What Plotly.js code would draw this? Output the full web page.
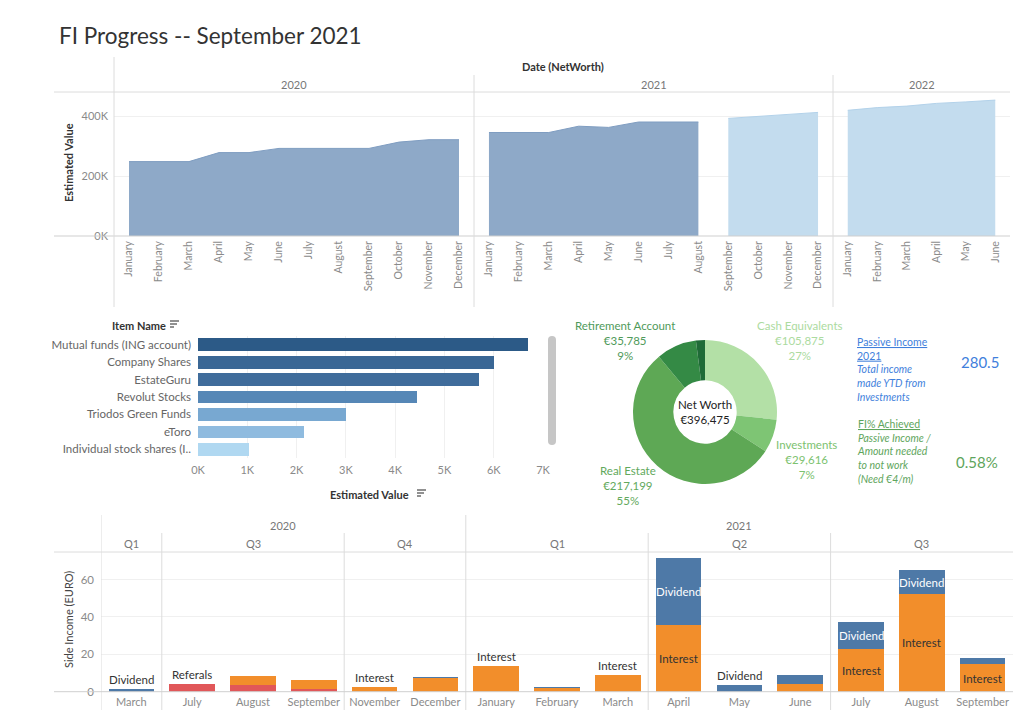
<!DOCTYPE html>
<html><head><meta charset="utf-8">
<script src="https://cdn.plot.ly/plotly-3.0.1.min.js"></script>
<style>html,body{margin:0;padding:0;background:#fff;}#chart{width:1024px;height:728px;}</style>
</head><body><div id="chart"></div><script>
// ---------- DATA ----------
const months = ['January','February','March','April','May','June','July','August','September','October','November','December'];
const nwYears = ['2020','2021','2022'];
const nw2020 = [248000,248000,248000,278000,278000,292000,292000,292000,292000,313000,321000,321000];
const nw2021Actual = [345000,345000,345000,366000,362000,380000,380000,380000];
const nw2021Forecast = [392000,398000,405000,412000];
const nw2022Forecast = [419000,428000,433000,442000,447000,453000];

const items = ['Mutual funds (ING account)','Company Shares','EstateGuru','Revolut Stocks','Triodos Green Funds','eToro','Individual stock shares (I..'];
const itemValues = [6700,6010,5710,4450,3000,2150,1040];

const assetLabels = ['Cash Equivalents','Investments','Real Estate','Retirement Account','Other'];
const assetValues = [105875,29616,217199,35785,8000];

const passiveIncome2021 = 280.5;
const fiAchievedPct = 0.58;

const periodYears = ['2020','2020','2020','2020','2020','2020','2021','2021','2021','2021','2021','2021','2021','2021','2021'];
const periodQuarters = ['Q1','Q3','Q3','Q3','Q4','Q4','Q1','Q1','Q1','Q2','Q2','Q2','Q3','Q3','Q3'];
const periodMonths = ['March','July','August','September','November','December','January','February','March','April','May','June','July','August','September'];
const referals = [0,4.1,3.6,1.4,0,0,0,0,0,0,0,0,0,0,0];
const interest = [0,0,4.8,4.8,2.5,7.5,14.0,2.1,8.9,35.9,0,4.1,22.6,52.1,14.6];
const dividend = [1.6,0,0,0,0,0.4,0,0.5,0,35.7,3.6,4.8,14.8,12.8,3.2];

// ---------- STYLE ----------
const FONT = 'Lato, "Open Sans", sans-serif';
const W=1024,H=728;
const px=x=>x/W, py=y=>1-y/H;
const LINE='#dcdcdc', GRID='#f0f0f0', TICK='#8a8a8a';
const itemColors = ['#2c5a87','#3a6795','#3f6c9b','#5687b6','#78a8d1','#8fbbdf','#b0d8f1'];
const assetColors = ['#b3e0a6','#7ec574','#5ea855','#348a45','#1f6b37'];
const assetTextColors = ['#acdba0','#7cc26f','#62a95c','#4f9a5a'];
const incomeColors = {Referals:'#e15759',Interest:'#f28e2b',Dividend:'#4e79a7'};

const shapes=[], annotations=[];
const hline=(x0,x1,y,c)=>shapes.push({type:'line',xref:'paper',yref:'paper',x0:px(x0),x1:px(x1),y0:py(y),y1:py(y),line:{color:c||LINE,width:1}});
const vline=(x,y0,y1,c)=>shapes.push({type:'line',xref:'paper',yref:'paper',x0:px(x),x1:px(x),y0:py(y0),y1:py(y1),line:{color:c||LINE,width:1}});
const ann=(x,y,text,o)=>annotations.push(Object.assign({xref:'paper',yref:'paper',x:px(x),y:py(y),xanchor:'center',yanchor:'middle',text:text,showarrow:false,font:{family:FONT,size:11,color:'#333'}},o||{}));

// ---------- TITLE ----------
ann(57,35,'FI Progress -- September 2021',{xanchor:'left',font:{family:FONT,size:22.5,color:'#333'}});

// ---------- TOP AREA CHART ----------
const traces=[];
const darkFill='#8ea9c8', darkLine='#7f9dc1', lightFill='#c3dcee', lightLine='#b3d2ea';
function area(x,y,xa,fill,line){traces.push({type:'scatter',mode:'lines',x:x,y:y,xaxis:xa,yaxis:'y',fill:'tozeroy',fillcolor:fill,line:{color:line,width:1},hoverinfo:'skip'});}
area(months,nw2020,'x',darkFill,darkLine);
area(months.slice(0,nw2021Actual.length),nw2021Actual,'x2',darkFill,darkLine);
area(months.slice(12-nw2021Forecast.length),nw2021Forecast,'x2',lightFill,lightLine);
area(months.slice(0,nw2022Forecast.length),nw2022Forecast,'x3',lightFill,lightLine);

const topX = (dom,cats)=>({domain:dom,anchor:'y',type:'category',categoryorder:'array',categoryarray:cats,range:[-0.5,cats.length-0.5],tickangle:-90,showgrid:false,zeroline:false,showline:false,ticks:'',tickfont:{family:FONT,size:10.5,color:TICK},ticklabelstandoff:2,fixedrange:true});
ann(563,66,'<b>Date (NetWorth)</b>',{font:{family:FONT,size:11,color:'#333'}});
['x','x2','x3'].forEach((a,i)=>annotations.push({xref:a+' domain',yref:'paper',x:0.5,y:py(84),xanchor:'center',yanchor:'middle',text:nwYears[i],showarrow:false,font:{family:FONT,size:11,color:'#777'}}));
ann(68,163,'<b>Estimated Value</b>',{textangle:-90,font:{family:FONT,size:11,color:'#333'}});
hline(54,1010,92); hline(54,1010,236,'#cfcfcf');
vline(114,57,307); vline(474,75,307); vline(833,75,307);

// ---------- BAR CHART ----------
traces.push({type:'bar',orientation:'h',y:items,x:itemValues,xaxis:'x4',yaxis:'y4',width:0.73,marker:{color:itemColors},hoverinfo:'skip'});
ann(110,325,'<b>Item Name</b>',{xanchor:'left'});
ann(369,494,'<b>Estimated Value</b>');
function sortIcon(x,y){[[9,0],[7,3],[4,6]].forEach(([l,d])=>shapes.push({type:'line',xref:'paper',yref:'paper',x0:px(x),x1:px(x+l),y0:py(y+d),y1:py(y+d),line:{color:'#555',width:1.3}}));}
sortIcon(170,321); sortIcon(417,490);
// scrollbar
shapes.push({type:'path',xref:'paper',yref:'paper',path:`M ${px(548)} ${py(340)} Q ${px(548)} ${py(336)} ${px(552)} ${py(336)} Q ${px(556)} ${py(336)} ${px(556)} ${py(340)} L ${px(556)} ${py(441)} Q ${px(556)} ${py(445)} ${px(552)} ${py(445)} Q ${px(548)} ${py(445)} ${px(548)} ${py(441)} Z`,fillcolor:'#c6c6c6',line:{width:0}});

// ---------- DONUT ----------
const total = assetValues.reduce((a,b)=>a+b,0);
const cx=705, cy=412, R=72;
traces.push({type:'pie',values:assetValues,labels:assetLabels,hole:0.44,sort:false,direction:'clockwise',rotation:0,textinfo:'none',hoverinfo:'skip',marker:{colors:assetColors,line:{width:0}},domain:{x:[px(cx-R),px(cx+R)],y:[py(cy+R),py(cy-R)]}});
const eur=v=>'€'+v.toLocaleString('en-US');
const donutPos=[[800,340],[806,459],[628,485],[625,340]];
donutPos.forEach((p,i)=>ann(p[0],p[1],assetLabels[i]+'<br>'+eur(assetValues[i])+'<br>'+Math.round(assetValues[i]/total*100)+'%',{font:{family:FONT,size:11.5,color:assetTextColors[i]}}));
ann(cx,cy,'Net Worth<br>'+eur(total),{font:{family:FONT,size:11.5,color:'#222'}});

// ---------- KPI TEXT ----------
const blue='#3f7fdc', green='#5ea55c';
ann(855,334,'<u>Passive Income</u><br><u>2021</u><br><i>Total income</i><br><i>made YTD from</i><br><i>Investments</i>',{xanchor:'left',yanchor:'top',align:'left',font:{family:FONT,size:10.5,color:blue}});
ann(980,362,String(passiveIncome2021),{font:{family:FONT,size:15,color:blue}});
ann(855,416,'<u>FI% Achieved</u><br><i>Passive Income /</i><br><i>Amount needed</i><br><i>to not work</i><br><i>(Need €4/m)</i>',{xanchor:'left',yanchor:'top',align:'left',font:{family:FONT,size:10.5,color:green}});
ann(977,462,fiAchievedPct.toFixed(2)+'%',{font:{family:FONT,size:15,color:green}});

// ---------- SIDE INCOME ----------
const periodKeys = periodYears.map((y,i)=>y+' '+periodMonths[i]);
const series=[['Referals',referals],['Interest',interest],['Dividend',dividend]];
series.forEach(([n,v])=>traces.push({type:'bar',name:n,x:periodKeys,y:v.map(d=>d||null),xaxis:'x5',yaxis:'y5',width:0.75,marker:{color:incomeColors[n],line:{width:0}},hoverinfo:'skip'}));
// mark labels
periodKeys.forEach((k,i)=>{
  const segs=series.map(([n,v])=>[n,v[i]]);
  const nonzero=segs.filter(s=>s[1]>0);
  let base=0;
  if(nonzero.length===1){
    annotations.push({xref:'x5',yref:'y5',x:i,y:nonzero[0][1],xanchor:'center',yanchor:'bottom',yshift:1,text:nonzero[0][0],showarrow:false,font:{family:FONT,size:11.5,color:'#333'}});
  } else {
    segs.forEach(([n,v])=>{ if(v>=10) annotations.push({xref:'x5',yref:'y5',x:i,y:base+v/2,xanchor:'center',yanchor:'middle',text:n,showarrow:false,font:{family:FONT,size:11.5,color:n==='Dividend'?'#fff':'#333'}}); base+=v; });
  }
});
function groups(keys){const g=[];keys.forEach((k,i)=>{if(g.length&&g[g.length-1].key===k)g[g.length-1].end=i;else g.push({key:k,start:i,end:i});});return g;}
const yearG=groups(periodYears), qG=groups(periodYears.map((y,i)=>y+'|'+periodQuarters[i]));
yearG.forEach(g=>{annotations.push({xref:'x5',yref:'paper',x:(g.start+g.end)/2,y:py(525),xanchor:'center',yanchor:'middle',text:g.key,showarrow:false,font:{family:FONT,size:11,color:'#777'}});
  shapes.push({type:'line',xref:'x5',yref:'paper',x0:g.start-0.5,x1:g.start-0.5,y0:py(515),y1:py(710),line:{color:LINE,width:1}});});
qG.forEach(g=>{annotations.push({xref:'x5',yref:'paper',x:(g.start+g.end)/2,y:py(543),xanchor:'center',yanchor:'middle',text:g.key.split('|')[1],showarrow:false,font:{family:FONT,size:11,color:'#777'}});
  if(!yearG.some(y=>y.start===g.start)) shapes.push({type:'line',xref:'x5',yref:'paper',x0:g.start-0.5,x1:g.start-0.5,y0:py(533),y1:py(710),line:{color:LINE,width:1}});});
hline(54,1013,552); hline(54,1013,691.7,'#cfcfcf');
ann(68,620,'Side Income (EURO)',{textangle:-90,font:{family:FONT,size:11,color:'#444'}});

// ---------- LAYOUT ----------
const layout={width:W,height:H,margin:{l:0,r:0,t:0,b:0},paper_bgcolor:'#fff',plot_bgcolor:'rgba(0,0,0,0)',showlegend:false,barmode:'stack',
 font:{family:FONT,size:11,color:'#666'},
 xaxis:topX([px(114),px(474)],months),
 xaxis2:topX([px(474),px(833)],months),
 xaxis3:topX([px(833),px(1010)],months.slice(0,nw2022Forecast.length)),
 yaxis:{domain:[py(236),py(92)],anchor:'x',range:[0,480000],tickvals:[0,200000,400000],ticktext:['0K','200K','400K'],showgrid:true,gridcolor:GRID,zeroline:false,ticks:'',ticklabelstandoff:5,tickfont:{family:FONT,size:11,color:TICK},fixedrange:true},
 xaxis4:{domain:[px(198),px(543)],anchor:'y4',range:[0,7000],tickvals:[0,1000,2000,3000,4000,5000,6000,7000],ticktext:['0K','1K','2K','3K','4K','5K','6K','7K'],showgrid:true,gridcolor:GRID,zeroline:false,ticks:'',ticklabelstandoff:4,tickfont:{family:FONT,size:11,color:TICK}},
 yaxis4:{domain:[py(458),py(336)],anchor:'x4',type:'category',autorange:'reversed',ticks:'',ticklabelstandoff:6,showgrid:false,tickfont:{family:FONT,size:11.5,color:'#666'}},
 xaxis5:{domain:[px(101),px(1013)],anchor:'y5',type:'category',categoryorder:'array',categoryarray:periodKeys,tickvals:periodKeys,ticktext:periodMonths,range:[-0.5,periodKeys.length-0.5],ticks:'',showgrid:false,zeroline:false,ticklabelstandoff:2,tickfont:{family:FONT,size:11,color:TICK}},
 yaxis5:{domain:[py(691.7),py(552)],anchor:'x5',range:[0,74.7],tickvals:[0,20,40,60],showgrid:true,gridcolor:GRID,zeroline:false,ticks:'',ticklabelstandoff:6,tickfont:{family:FONT,size:11.5,color:TICK}},
 shapes:shapes,annotations:annotations};
Plotly.newPlot('chart',traces,layout,{displayModeBar:false,staticPlot:true});
</script></body></html>
